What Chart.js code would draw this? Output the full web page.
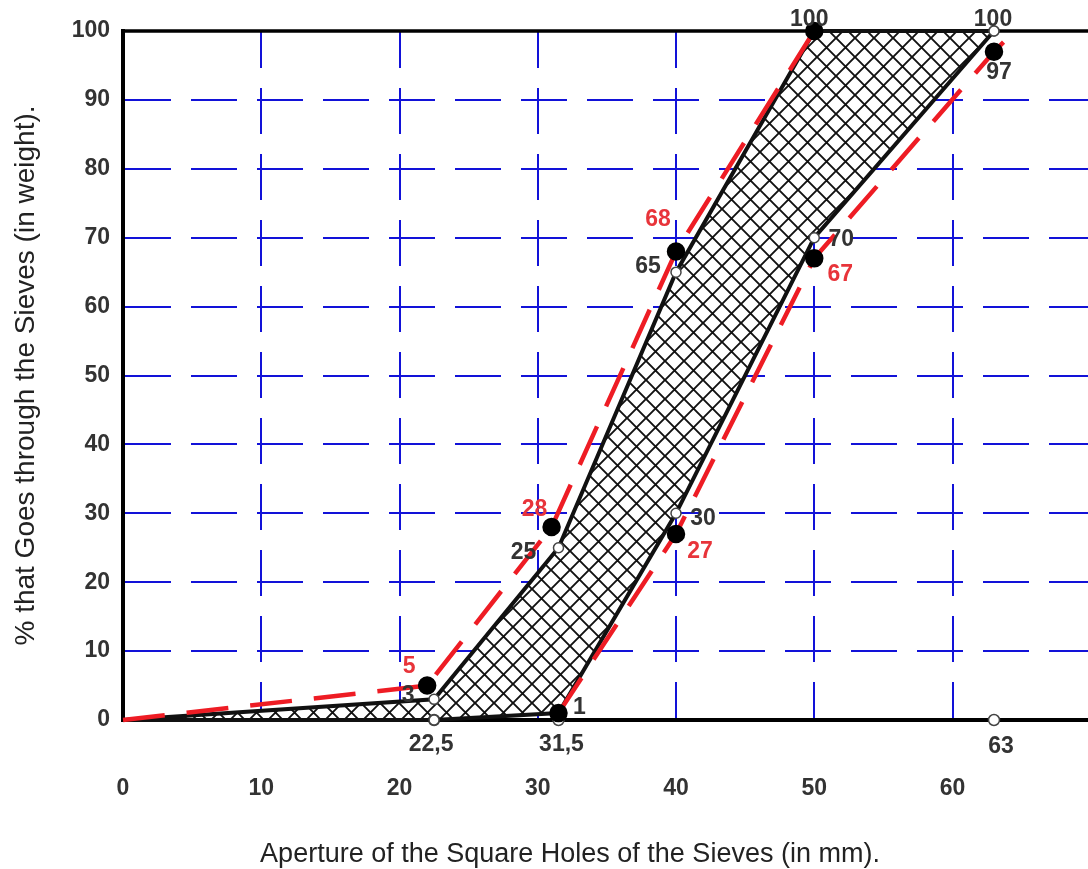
<!DOCTYPE html>
<html>
<head>
<meta charset="utf-8">
<script src="https://cdn.jsdelivr.net/npm/chart.js@4"></script>
<style>
  html, body { margin: 0; padding: 0; background: #fff; overflow: hidden; }
</style>
</head>
<body>
<canvas id="grading" width="1088" height="869"></canvas>
<script>
// sieve apertures (mm) and limit curves
const sieveX = [0, 22.5, 31.5, 40, 50, 63];
const upperLimit = [0, 3, 25, 65, 100, 100];
const lowerLimit = [0, 0, 1, 30, 70, 100];
const upperText = ["", "3", "25", "65", "", "100"];
const lowerText = ["", "", "", "30", "70", ""];

// red dashed curves (measured grading)
const redUpperX = [0, 22, 31, 40, 50];
const redUpperY = [0, 5, 28, 68, 100];
const redUpperText = ["", "5", "28", "68", "100"];
const redLowerX = [31.5, 40, 50, 63, 64.5];
const redLowerY = [1, 27, 67, 97, 100];
const redLowerText = ["1", "27", "67", "97", ""];

// marked sieves on the x axis
const sieveMarks = [22.5, 31.5, 63];
const sieveMarkText = ["22,5", "31,5", "63"];

// ticks
const xTicks = [0, 10, 20, 30, 40, 50, 60];
const yTicks = [0, 10, 20, 30, 40, 50, 60, 70, 80, 90, 100];

const ink = "#333";
const red = "#ee1c24";
const redText = "#e8343a";
const blue = "#1212d8";
const fontFamily = "'Liberation Sans', Arial, sans-serif";

const pts = (xs, ys) => xs.map((x, i) => ({ x: x, y: ys[i] }));

function hatch() {
  const s = 19;
  const c = document.createElement("canvas");
  c.width = s; c.height = s;
  const g = c.getContext("2d");
  g.fillStyle = "#fff";
  g.fillRect(0, 0, s, s);
  g.strokeStyle = "#111";
  g.lineWidth = 1.9;
  g.beginPath();
  g.moveTo(-2, -2); g.lineTo(s + 2, s + 2);
  g.moveTo(s + 2, -2); g.lineTo(-2, s + 2);
  g.stroke();
  return g.createPattern(c, "repeat");
}

// label offsets (px) and colours, per dataset point
const labelStyle = [
  { ds: 0, text: upperText, color: ink, off: [[0, 0], [-26, -4], [-35, 5], [-28, -5], [0, 0], [-1, -11]] },
  { ds: 1, text: lowerText, color: ink, off: [[0, 0], [0, 0], [0, 0], [27, 5], [27, 2], [0, 0]] },
  { ds: 2, text: redUpperText, color: [ink, redText, redText, redText, ink], off: [[0, 0], [-18, -19], [-17, -17], [-18, -32], [-5, -11]] },
  { ds: 3, text: redLowerText, color: [ink, redText, redText, ink, ink], off: [[21, -5], [24, 18], [26, 16], [5, 21], [0, 0]] },
  { ds: 4, text: sieveMarkText, color: ink, off: [[-3, 25], [3, 25], [7, 27]] }
];

const extras = {
  id: "extras",
  beforeDatasetsDraw(chart) {
    const { ctx, chartArea, scales } = chart;
    const y = scales.y.getPixelForValue(100);
    ctx.save();
    ctx.strokeStyle = "#000";
    ctx.lineWidth = 3.5;
    ctx.beginPath();
    ctx.moveTo(chartArea.left, y);
    ctx.lineTo(chartArea.right, y);
    ctx.stroke();
    ctx.restore();
  },
  afterDatasetsDraw(chart) {
    const ctx = chart.ctx;
    ctx.save();
    ctx.font = "bold 23px " + fontFamily;
    ctx.textAlign = "center";
    ctx.textBaseline = "middle";
    labelStyle.forEach(set => {
      const meta = chart.getDatasetMeta(set.ds);
      set.text.forEach((t, i) => {
        if (!t) return;
        const el = meta.data[i];
        ctx.fillStyle = Array.isArray(set.color) ? set.color[i] : set.color;
        ctx.fillText(t, el.x + set.off[i][0], el.y + set.off[i][1]);
      });
    });
    // x axis title
    ctx.font = "27px " + fontFamily;
    ctx.fillStyle = "#222";
    ctx.fillText("Aperture of the Square Holes of the Sieves (in mm).", 570, 855);
    ctx.restore();
  }
};

new Chart(document.getElementById("grading"), {
  type: "line",
  data: {
    datasets: [
      {
        data: pts(sieveX, upperLimit),
        borderColor: "#111",
        borderWidth: 4,
        backgroundColor: hatch(),
        fill: "+1",
        pointRadius: [0, 5, 5, 5, 5, 5],
        pointBackgroundColor: "#fff",
        pointBorderColor: "#444",
        pointBorderWidth: 1.5,
        order: 1,
        clip: false
      },
      {
        data: pts(sieveX, lowerLimit),
        borderColor: "#111",
        borderWidth: 4,
        fill: false,
        pointRadius: [0, 5, 0, 5, 5, 5],
        pointBackgroundColor: "#fff",
        pointBorderColor: "#444",
        pointBorderWidth: 1.5,
        order: 1,
        clip: false
      },
      {
        data: pts(redUpperX, redUpperY),
        borderColor: red,
        borderWidth: 4.5,
        borderDash: [42, 22],
        fill: false,
        pointRadius: [0, 7, 7, 7, 7],
        pointBackgroundColor: "#000",
        pointBorderColor: "#000",
        order: 0,
        clip: false
      },
      {
        data: pts(redLowerX, redLowerY),
        borderColor: red,
        borderWidth: 4.5,
        borderDash: [42, 22],
        fill: false,
        pointRadius: [7, 7, 7, 7, 0],
        pointBackgroundColor: "#000",
        pointBorderColor: "#000",
        order: 0,
        clip: false
      },
      {
        data: sieveMarks.map(x => ({ x: x, y: 0 })),
        showLine: false,
        pointRadius: 5.5,
        pointBackgroundColor: "#fff",
        pointBorderColor: "#444",
        pointBorderWidth: 1.5,
        order: 2,
        clip: false
      }
    ]
  },
  options: {
    responsive: false,
    animation: false,
    layout: { autoPadding: false, padding: { top: 31, right: 0, bottom: 0, left: 0 } },
    plugins: {
      legend: { display: false },
      tooltip: { enabled: false },
      filler: { drawTime: "beforeDatasetsDraw" }
    },
    elements: { line: { tension: 0 } },
    scales: {
      x: {
        type: "linear",
        min: 0,
        max: 69.8,
        afterBuildTicks: s => { s.ticks = xTicks.map(v => ({ value: v })); },
        afterFit: s => { s.height = 149; s.paddingLeft = 0; s.paddingRight = 0; },
        ticks: {
          padding: 55,
          color: ink,
          font: { family: fontFamily, size: 23, weight: "bold" }
        },
        grid: {
          drawTicks: false,
          lineWidth: 2,
          color: c => (c.tick && c.tick.value === 0 ? "rgba(0,0,0,0)" : blue)
        },
        border: { display: true, color: "#000", width: 4, dash: [46, 20], dashOffset: 9 }
      },
      y: {
        min: 0,
        max: 100,
        afterBuildTicks: s => { s.ticks = yTicks.map(v => ({ value: v })); },
        afterFit: s => { s.width = 123; },
        ticks: {
          padding: 13,
          color: ink,
          font: { family: fontFamily, size: 23, weight: "bold" }
        },
        grid: {
          drawTicks: false,
          lineWidth: 2,
          color: c => (c.tick && (c.tick.value === 0 || c.tick.value === 100) ? "rgba(0,0,0,0)" : blue)
        },
        border: { display: true, color: "#000", width: 4, dash: [46, 20], dashOffset: 0 },
        title: {
          display: true,
          text: "% that Goes through the Sieves (in weight).",
          color: "#222",
          padding: { top: 9, bottom: 0 },
          font: { family: fontFamily, size: 28 }
        }
      }
    }
  },
  plugins: [extras]
});
</script>
</body>
</html>
